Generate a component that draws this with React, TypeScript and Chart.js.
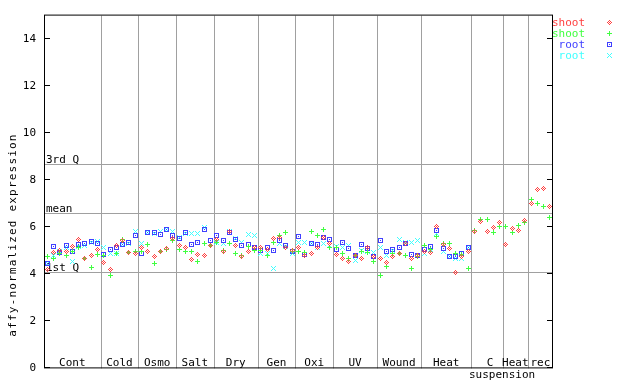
import React, { useEffect, useRef } from 'react';
import { Chart, registerables } from 'chart.js';

Chart.register(...registerables);

// ---- data ----
const groupLabels = ['Cont', 'Cold', 'Osmo', 'Salt', 'Dry', 'Gen', 'Oxi', 'UV', 'Wound', 'Heat', 'C', 'Heat', 'rec'];
const groupSizes = [9, 6, 6, 6, 7, 6, 6, 7, 7, 8, 5, 4, 4];
const yTicks = [0, 2, 4, 6, 8, 10, 12, 14];
const refLabels = ['3rd Q', 'mean', '1st Q'];
const refValues = [8.67, 6.59, 4.08];
const seriesNames = ['shoot', 'shoot', 'root', 'root'];
const yTitle = 'affy-normalized expression';

const shoot1 = [
  4.2, 4.91, 5.02, 4.95, 5.19, 5.48, 4.69, 4.78, 5.06,
  4.5, 4.2, 5.23, 5.44, 4.92, 4.88,
  5.12, 4.98, 4.76, 4.95, 5.09, 5.51,
  5.23, 5.13, 4.62, 4.85, 4.78, 5.23,
  5.48, 4.95, 5.8, 5.23, 4.74, 4.95, 5.13,
  5.12, 5.05, 5.51, 5.55, 5.13, 5.02,
  5.13, 4.81, 4.88, 5.13, 5.55, 5.3,
  4.85, 4.67, 4.53, 4.81, 4.67, 5.13, 4.76,
  4.67, 4.5, 4.74, 4.88, 5.3, 4.67, 4.78,
  4.95, 4.91, 6.03, 5.27, 5.09, 4.08, 4.77, 4.95,
  5.83, 6.25, 5.82, 5.98, 6.19,
  5.27, 5.93, 5.86, 6.28,
  7.03, 7.59, 7.65, 6.87,
];
const shoot2 = [
  4.74, 4.67, 4.88, 4.81, 4.95, 5.13, 4.67, 4.29, 4.85,
  4.8, 3.96, 4.88, 5.47, 4.92, 4.95,
  4.99, 5.26, 4.46, 4.99, 5.06, 5.44,
  5.06, 4.98, 4.95, 4.53, 5.3, 5.23,
  5.34, 5.02, 5.3, 4.88, 4.81, 5.19, 5.02,
  5.02, 4.81, 5.34, 5.65, 5.76, 4.95,
  4.95, 4.91, 5.82, 5.65, 5.89, 5.16,
  5.13, 4.88, 4.67, 4.81, 4.95, 4.92, 4.53,
  3.96, 4.32, 4.88, 4.88, 4.81, 4.25, 4.74,
  5.23, 5.06, 5.61, 5.33, 5.3, 4.88, 4.85, 4.26,
  5.86, 6.33, 6.33, 5.76, 6.03,
  6.03, 5.79, 6.07, 6.19,
  7.2, 6.99, 6.87, 6.4,
];
const root1 = [
  4.46, 5.19, 4.91, 5.23, 4.95, 5.26, 5.3, 5.4, 5.3,
  4.83, 5.06, 5.13, 5.26, 5.37, 5.65,
  4.88, 5.79, 5.78, 5.68, 5.89, 5.66,
  5.54, 5.76, 5.26, 5.37, 5.89, 5.44,
  5.65, 5.44, 5.79, 5.47, 5.23, 5.27, 5.13,
  5.02, 5.13, 5.02, 5.44, 5.23, 4.99,
  5.61, 4.85, 5.3, 5.26, 5.55, 5.47,
  5.05, 5.34, 5.09, 4.81, 5.26, 5.09, 4.76,
  5.44, 4.98, 5.05, 5.13, 5.3, 4.83, 4.81,
  5.05, 5.19, 5.86, 5.09, 4.77, 4.77, 4.88, 5.16,
];
const root2 = [
  4.46, 4.81, 4.95, 5.16, 4.53, 5.2, 5.23, 5.37, 5.41,
  5.13, 4.88, 4.88, 5.26, 5.3, 5.83,
  5.3, 5.79, 5.72, 5.82, 5.89, 5.83,
  5.58, 5.72, 5.72, 5.72, 5.97, 5.3,
  5.37, 5.3, 5.83, 5.51, 5.37, 5.69, 5.65,
  4.88, 4.88, 4.25, 5.3, 5.19, 4.88,
  5.37, 5.37, 5.3, 5.16, 5.3, 5.23,
  5.19, 5.16, 5.23, 4.6, 5.02, 4.95, 4.92,
  5.16, 4.81, 5.02, 5.47, 5.37, 5.37, 5.44,
  4.88, 5.05, 5.72, 4.99, 4.74, 4.67, 4.67, 5.13,
];

const COLORS = ['#ff4040', '#40ff40', '#4040ff', '#40ffff'];
const PATTERNS = [
  ['..X..', '.X.X.', 'X.X.X', '.X.X.', '..X..'],
  ['..X..', '..X..', 'XXXXX', '..X..', '..X..'],
  ['XXXXX', 'X...X', 'X.X.X', 'X...X', 'XXXXX'],
  ['X...X', '.X.X.', '..X..', '.X.X.', 'X...X'],
];

const FONT = '"DejaVu Sans Mono", monospace';

function makeMarker(pattern: string[], color: string): HTMLCanvasElement {
  const c = document.createElement('canvas');
  c.width = pattern[0].length;
  c.height = pattern.length;
  const ctx = c.getContext('2d')!;
  ctx.fillStyle = color;
  pattern.forEach((row, yy) => {
    for (let xx = 0; xx < row.length; xx++) if (row[xx] === 'X') ctx.fillRect(xx, yy, 1, 1);
  });
  return c;
}

const toPoints = (arr: number[]) => arr.map((v, i) => ({ x: i + 0.5, y: v }));

export default function App() {
  const ref = useRef<HTMLCanvasElement | null>(null);

  useEffect(() => {
    const canvas = ref.current;
    if (!canvas) return;
    const markers = PATTERNS.map((p, i) => makeMarker(p, COLORS[i]));
    const series = [shoot1, shoot2, root1, root2];
    const totalSlots = groupSizes.reduce((a, b) => a + b, 0);

    const annot = {
      id: 'annot',
      beforeDatasetsDraw(chart: any) {
        const { ctx, chartArea: a, scales } = chart;
        const x = scales.x;
        const y = scales.y;
        ctx.save();
        ctx.strokeStyle = '#a0a0a0';
        ctx.lineWidth = 1;
        ctx.beginPath();
        let b = 0;
        for (let g = 0; g < groupSizes.length - 1; g++) {
          b += groupSizes[g];
          const px = Math.round(x.getPixelForValue(b)) + 0.5;
          ctx.moveTo(px, a.top);
          ctx.lineTo(px, a.bottom);
        }
        refValues.forEach((v) => {
          const py = Math.round(y.getPixelForValue(v)) + 0.5;
          ctx.moveTo(a.left, py);
          ctx.lineTo(a.right, py);
        });
        ctx.stroke();
        ctx.fillStyle = '#000';
        ctx.font = `11px ${FONT}`;
        ctx.textAlign = 'left';
        ctx.textBaseline = 'alphabetic';
        refValues.forEach((v, i) => {
          ctx.fillText(refLabels[i], a.left + 1, Math.round(y.getPixelForValue(v)) - 1);
        });
        ctx.restore();
        ctx.imageSmoothingEnabled = false;
      },
      afterDatasetsDraw(chart: any) {
        chart.ctx.imageSmoothingEnabled = true;
      },
      afterDraw(chart: any) {
        const { ctx, chartArea: a, scales } = chart;
        const x = scales.x;
        const y = scales.y;
        ctx.save();
        // border
        ctx.strokeStyle = '#000';
        ctx.lineWidth = 1;
        ctx.strokeRect(a.left - 0.5, a.top - 0.5, a.right - a.left, a.bottom - a.top);
        // inward ticks on both sides
        ctx.beginPath();
        yTicks.forEach((v) => {
          const py = Math.round(y.getPixelForValue(v)) - 0.5;
          ctx.moveTo(a.left, py);
          ctx.lineTo(a.left + 5, py);
          ctx.moveTo(a.right - 1, py);
          ctx.lineTo(a.right - 6, py);
        });
        ctx.stroke();
        // group labels
        ctx.fillStyle = '#000';
        ctx.font = `11px ${FONT}`;
        ctx.textAlign = 'center';
        ctx.textBaseline = 'alphabetic';
        let start = 0;
        groupSizes.forEach((n, g) => {
          const cx = x.getPixelForValue(start + n / 2);
          const lab = groupLabels[g];
          if (lab === 'C') {
            ctx.fillText(lab, cx + 3, a.bottom - 2);
            ctx.fillText('suspension', cx + 15, a.bottom + 10);
          } else {
            ctx.fillText(lab, cx, a.bottom - 2);
          }
          start += n;
        });
        // y title
        ctx.save();
        ctx.translate(13, 235);
        ctx.rotate(-Math.PI / 2);
        (ctx as any).letterSpacing = '1.2px';
        ctx.textAlign = 'center';
        ctx.textBaseline = 'middle';
        ctx.font = `11px ${FONT}`;
        ctx.fillText(yTitle, 0, 0);
        ctx.restore();
        // legend
        ctx.font = `11px ${FONT}`;
        ctx.textAlign = 'right';
        ctx.textBaseline = 'middle';
        ctx.imageSmoothingEnabled = false;
        seriesNames.forEach((name, i) => {
          const ly = 23 + i * 11;
          ctx.fillStyle = COLORS[i];
          ctx.fillText(name, 585, ly);
          ctx.drawImage(markers[i], 607, ly - 3);
        });
        ctx.restore();
      },
    };

    const chart = new Chart(canvas, {
      type: 'scatter',
      data: {
        datasets: series.map((s, i) => ({
          label: seriesNames[i],
          data: toPoints(s),
          pointStyle: markers[i] as any,
          pointRadius: 3,
          borderColor: COLORS[i],
          backgroundColor: COLORS[i],
        })),
      },
      options: {
        responsive: false,
        animation: false,
        devicePixelRatio: 1,
        layout: { padding: { left: 0, right: 87, top: 14, bottom: 15 } },
        plugins: { legend: { display: false }, tooltip: { enabled: false } },
        scales: {
          x: { type: 'linear', min: 0.15, max: totalSlots, display: false },
          y: {
            type: 'linear',
            min: 0,
            max: 15,
            grid: { display: false, drawTicks: false },
            border: { display: false },
            ticks: { font: { family: 'DejaVu Sans Mono', size: 11 }, color: '#000', padding: 9 },
            afterBuildTicks: (s: any) => {
              s.ticks = yTicks.map((v) => ({ value: v }));
            },
            afterFit: (s: any) => {
              s.width = 45;
            },
          },
        },
      },
      plugins: [annot],
    });
    return () => chart.destroy();
  }, []);

  return (
    <div style={{ position: 'absolute', left: 0, top: 0, width: 640, height: 384, background: '#fff' }}>
      <canvas ref={ref} width={640} height={384} />
    </div>
  );
}
